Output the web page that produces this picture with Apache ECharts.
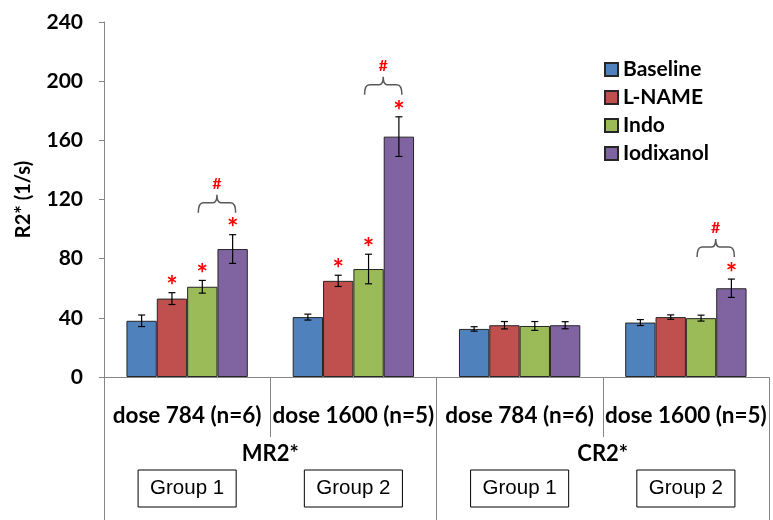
<!DOCTYPE html>
<html><head><meta charset="utf-8">
<script src="https://cdn.jsdelivr.net/npm/echarts@6/dist/echarts.min.js"></script>
<style>html,body{margin:0;padding:0;background:#fff}#c{width:773px;height:520px}</style>
</head><body><div id="c"></div>
<script>
// ---- data ----
const doseLabels = ['dose 784 (n=6)', 'dose 1600 (n=5)', 'dose 784 (n=6)', 'dose 1600 (n=5)'];
const regionLabels = ['MR2*', 'CR2*'];
const groupLabels = ['Group 1', 'Group 2', 'Group 1', 'Group 2'];
const seriesNames = ['Baseline', 'L-NAME', 'Indo', 'Iodixanol'];
const seriesColors = ['#4F81BD', '#C0504D', '#9BBB59', '#8064A2'];

const baseline  = [38, 40.5, 32.5, 36.8];
const lname     = [53, 65, 35, 40.5];
const indo      = [61, 73, 34.5, 39.8];
const iodixanol = [86.5, 162.5, 35, 60];

const baselineErr  = [3.9, 2.0, 1.5, 2.0];
const lnameErr     = [4.0, 3.8, 2.5, 1.5];
const indoErr      = [4.3, 10.0, 3.0, 2.0];
const iodixanolErr = [9.7, 13.4, 2.4, 6.2];

// significance markers (1 = asterisk shown)
const lnameStar     = [1, 1, 0, 0];
const indoStar      = [1, 1, 0, 0];
const iodixanolStar = [1, 1, 0, 1];
const bracketHash   = [1, 1, 0, 1];

const yMin = 0, yMax = 240, yStep = 40;

// ---- build ----
const values = [baseline, lname, indo, iodixanol];
const errs = [baselineErr, lnameErr, indoErr, iodixanolErr];
const stars = [[0,0,0,0], lnameStar, indoStar, iodixanolStar];
const CAT_GAP = 0.27;

function barX(api, cat, s) {
  const band = api.size([1, 0])[0];
  const bw = band * (1 - CAT_GAP) / 4;
  return api.coord([cat, 0])[0] + (s - 1.5) * bw;
}

const errData = [], starData = [], bracketData = [];
values.forEach((arr, s) => arr.forEach((v, c) => {
  errData.push([c, v, errs[s][c], s]);
  if (stars[s][c]) starData.push([c, v + errs[s][c], s]);
}));
bracketHash.forEach((b, c) => { if (b) bracketData.push([c, iodixanol[c] + iodixanolErr[c]]); });

const FONT = 'Lato';
const axisGray = '#868686';

const barSeries = seriesNames.map((n, s) => ({
  name: n, type: 'bar', xAxisIndex: 0, data: values[s],
  barGap: '0%', barCategoryGap: (CAT_GAP * 100) + '%',
  itemStyle: { color: seriesColors[s], borderColor: '#262626', borderWidth: 1 },
  z: 2
}));

const chart = echarts.init(document.getElementById('c'), null, { renderer: 'canvas' });
chart.setOption({
  animation: false,
  grid: { left: 104, right: 4, top: 22, bottom: 143, outerBoundsMode: 'none', containLabel: false },
  legend: {
    orient: 'vertical', left: 599, top: 54, itemWidth: 13, itemHeight: 13, itemGap: 7,
    icon: 'rect', data: seriesNames,
    textStyle: { fontFamily: FONT, fontWeight: 'bold', fontSize: 21, color: '#000' }
  },
  xAxis: [
    { type: 'category', data: doseLabels, position: 'bottom',
      axisLine: { show: true, lineStyle: { color: axisGray } },
      axisTick: { show: true, interval: 0, alignWithLabel: false, length: 60, lineStyle: { color: axisGray, width: 1 } },
      axisLabel: { interval: 0, margin: 27, fontFamily: FONT, fontWeight: 'bold', fontSize: 22.5, color: '#000', hideOverlap: false } },
    { type: 'category', data: regionLabels, position: 'bottom',
      axisLine: { show: false },
      axisTick: { show: true, interval: 0, alignWithLabel: false, length: 143, lineStyle: { color: axisGray, width: 1 } },
      axisLabel: { interval: 0, margin: 66, fontFamily: FONT, fontWeight: 'bold', fontSize: 22, color: '#000' } },
    { type: 'category', data: groupLabels, position: 'bottom',
      axisLine: { show: false }, axisTick: { show: false },
      axisLabel: { interval: 0, margin: 93, fontFamily: 'Liberation Sans', fontSize: 20.5, color: '#000',
        borderColor: '#000', borderWidth: 1, padding: [7, 12], lineHeight: 23 } }
  ],
  yAxis: {
    type: 'value', min: yMin, max: yMax, interval: yStep,
    name: 'R2* (1/s)', nameLocation: 'middle', nameGap: 70,
    nameTextStyle: { fontFamily: FONT, fontWeight: 'bold', fontSize: 20, color: '#000' },
    axisLine: { show: true, lineStyle: { color: axisGray } },
    axisTick: { show: true, length: 5, lineStyle: { color: axisGray } },
    splitLine: { show: false },
    axisLabel: { margin: 21, fontFamily: FONT, fontWeight: 'bold', fontSize: 21, color: '#000' }
  },
  series: barSeries.concat([
    { type: 'custom', name: 'err', xAxisIndex: 0, z: 3, data: errData,
      renderItem(params, api) {
        const c = api.value(0), v = api.value(1), e = api.value(2), s = api.value(3);
        const x = barX(api, c, s);
        const yT = api.coord([c, v + e])[1], yB = api.coord([c, v - e])[1];
        const st = { stroke: '#000', lineWidth: 1.2 };
        return { type: 'group', children: [
          { type: 'line', shape: { x1: x, y1: yT, x2: x, y2: yB }, style: st },
          { type: 'line', shape: { x1: x - 3.5, y1: yT, x2: x + 3.5, y2: yT }, style: st },
          { type: 'line', shape: { x1: x - 3.5, y1: yB, x2: x + 3.5, y2: yB }, style: st }
        ]};
      } },
    { type: 'custom', name: 'stars', xAxisIndex: 0, z: 4, data: starData,
      renderItem(params, api) {
        const c = api.value(0), top = api.value(1), s = api.value(2);
        const x = barX(api, c, s);
        const y = api.coord([c, top])[1];
        return { type: 'text', x: x, y: y - 6,
          style: { text: '*', fill: '#FF0000', font: 'bold 27px ' + FONT, align: 'center', verticalAlign: 'middle' } };
      } },
    { type: 'custom', name: 'brackets', xAxisIndex: 0, z: 4, data: bracketData,
      renderItem(params, api) {
        const c = api.value(0), top = api.value(1);
        const x1 = barX(api, c, 2) - 4, x2 = barX(api, c, 3) + 3;
        const xm = (x1 + x2) / 2;
        const y = api.coord([c, top])[1] - 32;
        const path = `M${x1},${y + 10} Q${x1},${y} ${x1 + 5},${y} L${xm - 4},${y} Q${xm},${y} ${xm},${y - 8} Q${xm},${y} ${xm + 4},${y} L${x2 - 5},${y} Q${x2},${y} ${x2},${y + 10}`;
        return { type: 'group', children: [
          { type: 'path', shape: { pathData: path }, style: { stroke: '#595959', lineWidth: 1.5, fill: null } },
          { type: 'text', x: xm, y: y - 19, style: { text: '#', fill: '#FF0000', font: 'bold 16px ' + FONT, align: 'center', verticalAlign: 'middle' } }
        ]};
      } }
  ])
});
</script></body></html>
